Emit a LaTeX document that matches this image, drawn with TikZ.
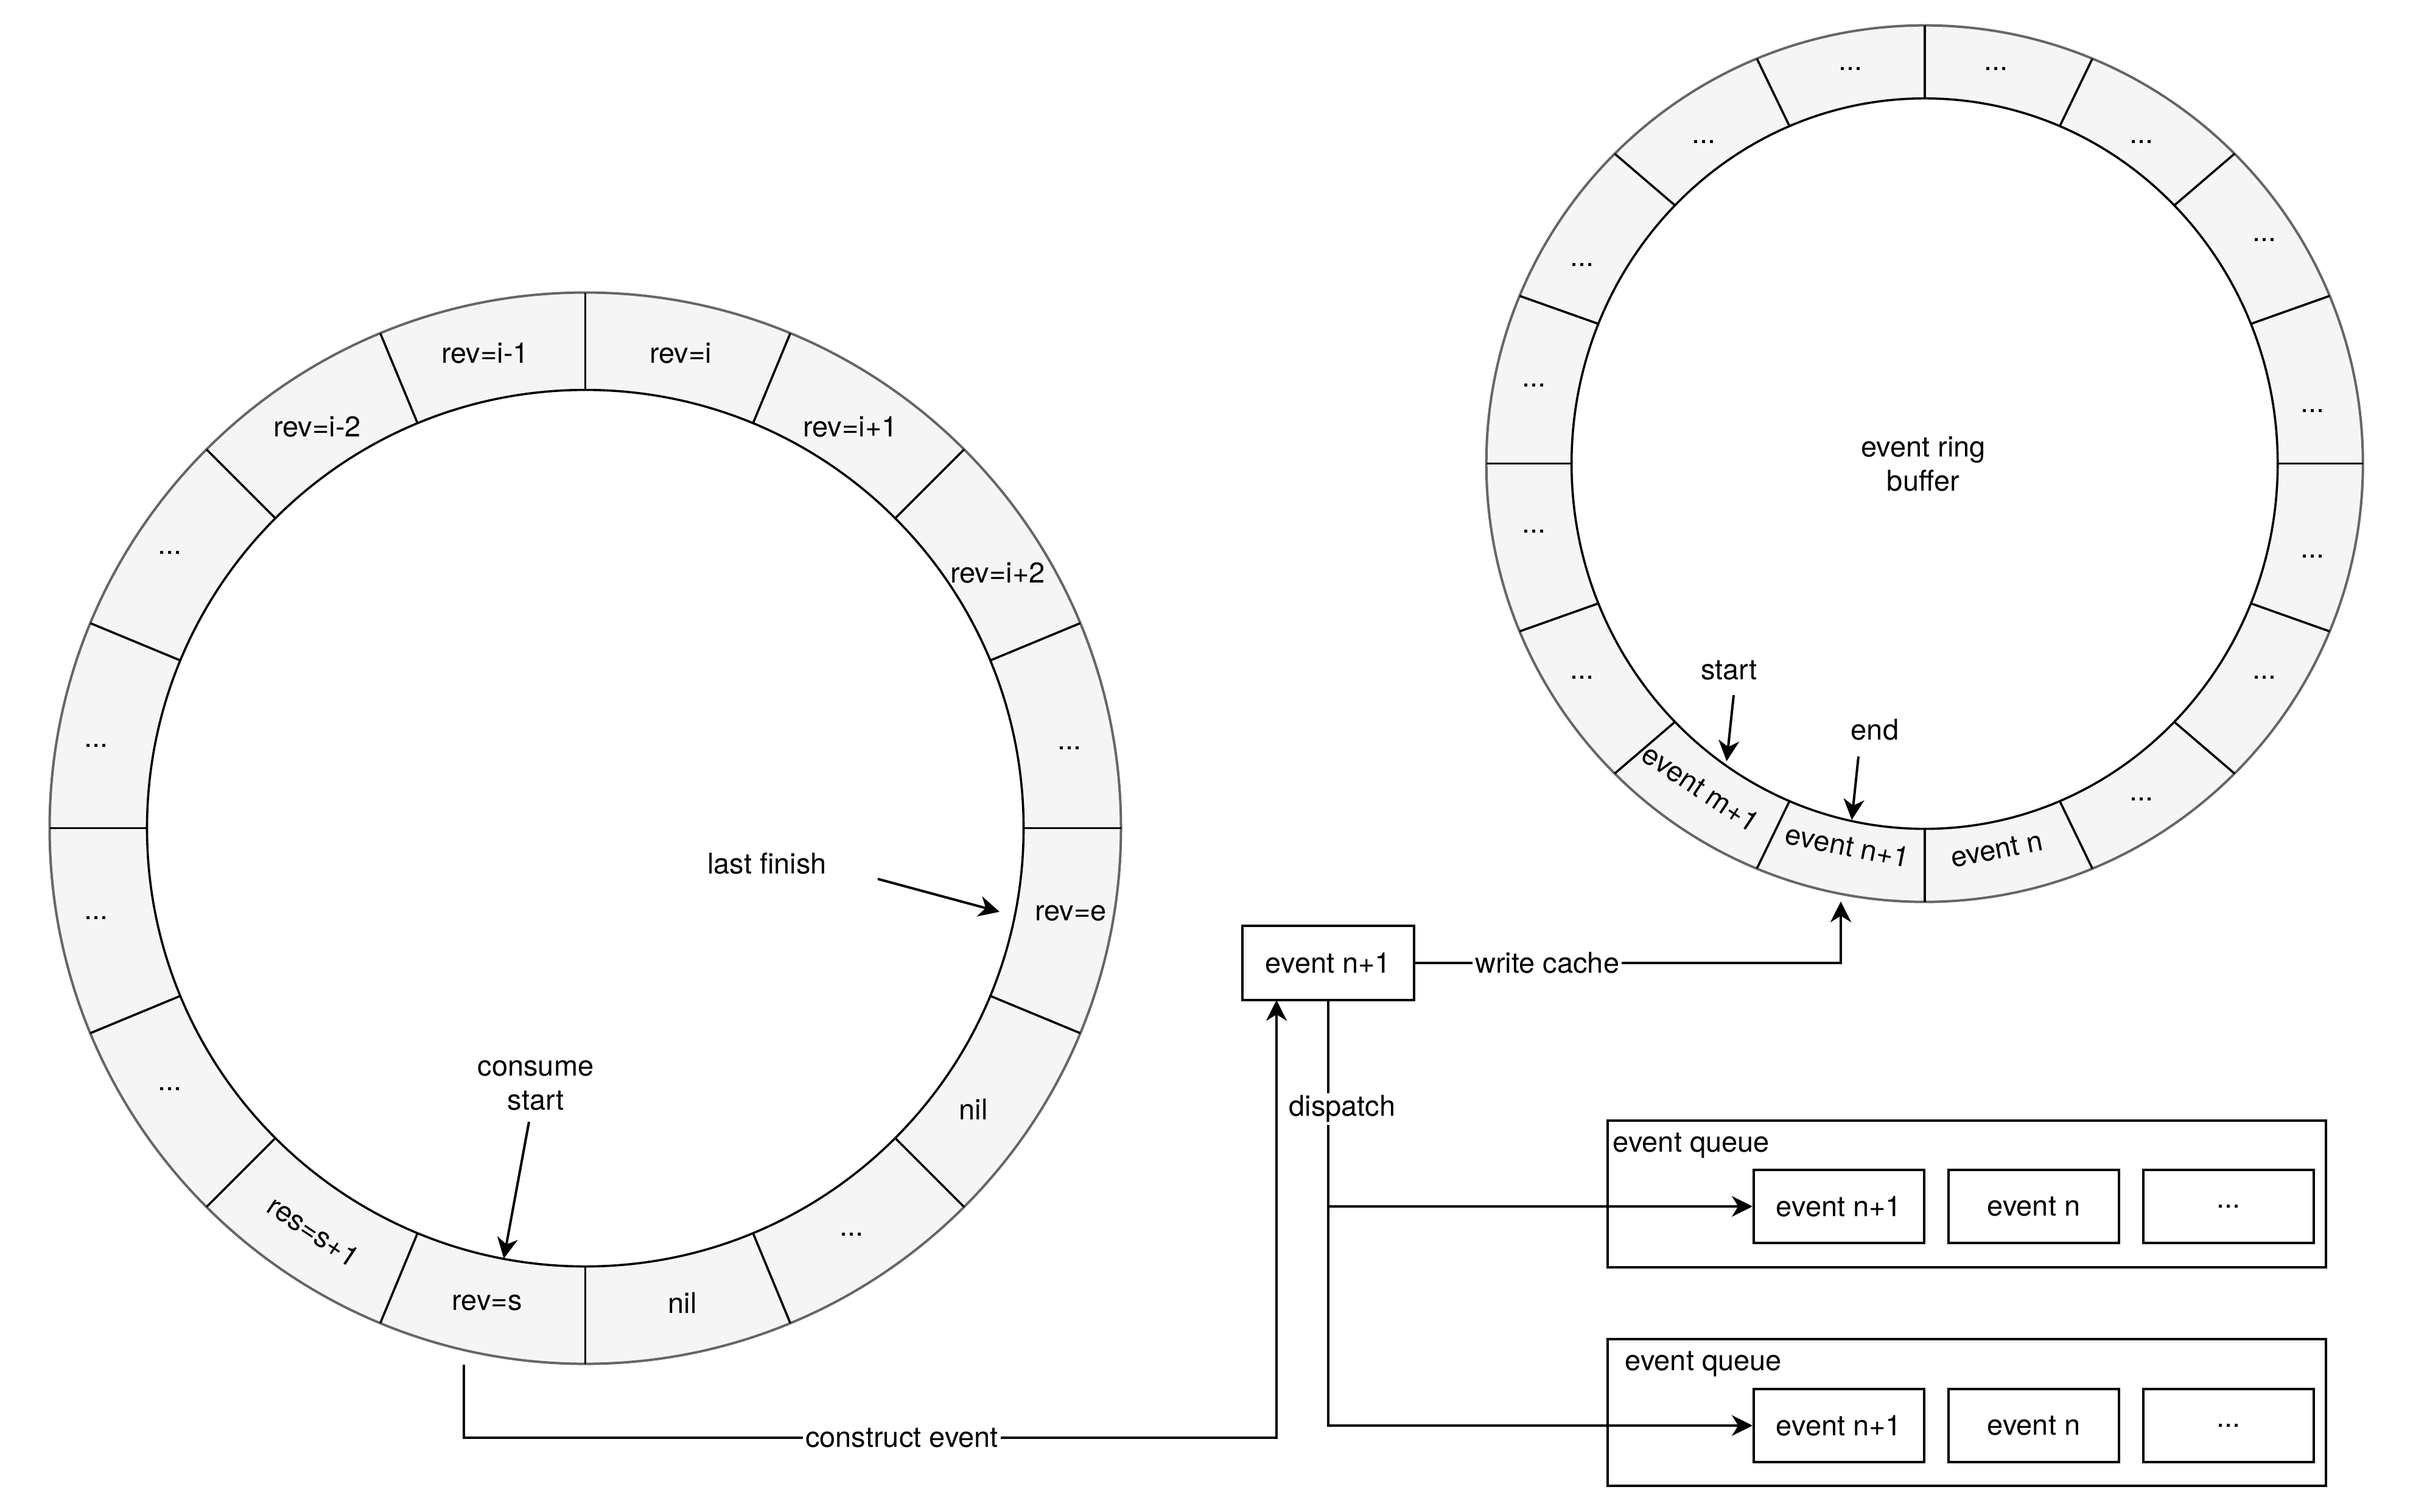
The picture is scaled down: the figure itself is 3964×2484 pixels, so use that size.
\documentclass[tikz,border=0pt]{standalone}
\usepackage{fontspec}
\setmainfont{TeX Gyre Heros}
\usetikzlibrary{arrows.meta,calc}
\definecolor{ringfill}{HTML}{F5F5F5}
\definecolor{ringedge}{HTML}{666666}
\begin{document}
\begin{tikzpicture}[x=0.25pt,y=0.25pt,
  font=\fontsize{11.75pt}{14.1pt}\selectfont,
  seg/.style={draw=black, line width=0.9pt},
  outer/.style={draw=ringedge, line width=1pt},
  lab/.style={inner sep=0pt, text=black},
  boxn/.style={draw=black, line width=1pt, minimum width=70pt, minimum height=30pt, inner sep=0pt},
  queue/.style={draw=black, line width=1pt, minimum width=295pt, minimum height=60.25pt, inner sep=0pt},
  arr/.style={-{Stealth[length=8.5pt,width=8.5pt,inset=2.6pt]}, line width=1pt},
  lbl/.style={fill=white, inner sep=1pt, text=black}]
\useasboundingbox (0,0) rectangle (3964,2484);

% ---------------- left ring ----------------
\coordinate (L) at (961.5,1123.4);
\fill[ringfill, even odd rule] (L) circle[radius=880] (L) circle[radius=720];
\draw[outer] (L) circle[radius=880];
\draw[seg] (L) circle[radius=720];
\foreach \a in {0,22.5,...,337.5}
  \draw[seg, shift={(L)}] (\a:720) -- (\a:880);

\node[lab] (l1)  at (797,1904)  {rev=i-1};
\node[lab] (l2)  at (1118,1904) {rev=i};
\node[lab] (l3)  at (521,1783)  {rev=i-2};
\node[lab] (l4)  at (1397,1783) {rev=i+1};
\node[lab] (l5)  at (279,1576)  {...};
\node[lab] (l6)  at (1639,1543) {rev=i+2};
\node[lab] (l7)  at (158,1259)  {...};
\node[lab] (l8)  at (1757,1255) {...};
\node[lab] (l9)  at (158,976)   {...};
\node[lab] (l10) at (1759,984)  {rev=e};
\node[lab] (l11) at (279,695)   {...};
\node[lab] (l12) at (1599,662)  {nil};
\node[lab, rotate=-33.75] (l13) at (515,461) {res=s+1};
\node[lab] (l14) at (1399,456)  {...};
\node[lab] (l15) at (800,344)   {rev=s};
\node[lab] (l16) at (1121,344)  {nil};

\node[lab] (lastfinish) at (1260,1065) {last finish};
\coordinate (lf1) at (1442,1040);
\coordinate (lf2) at (1642,986);
\draw[arr] (lf1) -- (lf2);

\node[lab, align=center] (consume) at (880,701) {consume\\start};
\coordinate (cs1) at (869,641);
\coordinate (cs2) at (827.6,416.4);
\draw[arr] (cs1) -- (cs2);

% ---------------- right ring ----------------
\coordinate (Rc) at (3161.7,1722.3);
\fill[ringfill, even odd rule] (Rc) circle[radius=720] (Rc) ellipse[x radius=580, y radius=600];
\draw[outer] (Rc) circle[radius=720];
\draw[seg] (Rc) ellipse[x radius=580, y radius=600];
\foreach \a in {0,22.5,...,337.5}
  \draw[seg, shift={(Rc)}] (\a:580 and 600) -- (\a:720);

\node[lab] (r1)  at (3040,2371) {...};
\node[lab] (r2)  at (3279,2371) {...};
\node[lab] (r3)  at (2799,2251) {...};
\node[lab] (r4)  at (3518,2251) {...};
\node[lab] (r5)  at (2599,2049) {...};
\node[lab] (r6)  at (3720,2090) {...};
\node[lab] (r7)  at (2520,1851) {...};
\node[lab] (r8)  at (3799,1809) {...};
\node[lab] (r9)  at (2520,1611) {...};
\node[lab] (r10) at (3799,1570) {...};
\node[lab] (r11) at (2599,1371) {...};
\node[lab] (r12) at (3720,1371) {...};
\node[lab] (r13) at (3518,1171) {...};
\node[lab, rotate=-33.75] (r14) at (2794,1189) {event m+1};
\node[lab, rotate=-11.25] (r15) at (3035,1094) {event n+1};
\node[lab, rotate=11.25]  (r16) at (3280,1088) {event n};

\node[lab, align=center] (ringname) at (3159.5,1722) {event ring\\buffer};

\node[lab] (startlbl) at (2840.5,1383) {start};
\coordinate (st1) at (2848,1342);
\coordinate (st2) at (2836.5,1233.4);
\draw[arr] (st1) -- (st2);

\node[lab] (endlbl) at (3080,1285) {end};
\coordinate (en1) at (3053,1241.3);
\coordinate (en2) at (3042,1137);
\draw[arr] (en1) -- (en2);

% ---------------- event box and queues ----------------
\node[boxn, minimum width=70.5pt, minimum height=30.5pt] (ev) at (2182,902) {event n+1};

\node[queue] (q1) at (3231,522.5) {};
\node[lab, anchor=west] (q1lbl) at (2649,602) {event queue};
\node[boxn] (q1a) at (3021,502) {event n+1};
\node[boxn] (q1b) at (3341,502) {event n};
\node[boxn] (q1c) at (3661,502) {...};

\node[queue] (q2) at (3231,163) {};
\node[lab, anchor=west] (q2lbl) at (2669,243) {event queue};
\node[boxn] (q2a) at (3021,142) {event n+1};
\node[boxn] (q2b) at (3341,142) {event n};
\node[boxn] (q2c) at (3661,142) {...};

% ---------------- connectors ----------------
\coordinate (ce0) at (762,242);
\coordinate (ce1) at (762,122);
\coordinate (ce2) at (2097,122);
\coordinate (ce3) at (2097,841);
\draw[arr] (ce0) -- (ce1) -- node[lbl, pos=0.539] {construct event} (ce2) -- (ce3);

\coordinate (wc) at (3024,1003);
\draw[arr] (ev.east) -| node[lbl, pos=0.155] {write cache} (wc);

\draw[arr] (ev.south) |- (q2a.west);
\draw[arr] (ev.south) |- node[lbl, pos=0.2625, xshift=5.75pt] {dispatch} (q1a.west);
\end{tikzpicture}
\end{document}
